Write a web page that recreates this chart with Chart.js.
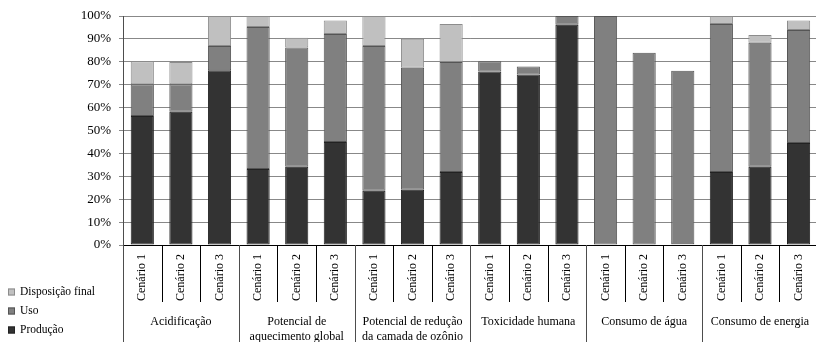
<!DOCTYPE html>
<html>
<head>
<meta charset="utf-8">
<script src="https://cdn.jsdelivr.net/npm/chart.js@4.4.1/dist/chart.umd.min.js"></script>
<style>
  html, body { margin: 0; padding: 0; background: #fff; overflow: hidden; }
  #wrap { width: 822px; height: 342px; }
</style>
</head>
<body>
<div id="wrap"><canvas id="grafico" width="822" height="342"></canvas></div>
<script>
/* Gráfico de barras empilhadas - contribuição por etapa */
const cenarios = ['Cenário 1', 'Cenário 2', 'Cenário 3'];
const categorias = [
  ['Acidificação'],
  ['Potencial de', 'aquecimento global'],
  ['Potencial de redução', 'da camada de ozônio'],
  ['Toxicidade humana'],
  ['Consumo de água'],
  ['Consumo de energia']
];
const yTicks = [0, 10, 20, 30, 40, 50, 60, 70, 80, 90, 100];

const producao   = [56.3, 58.2, 76.3, 33.2, 34.2, 45.0, 23.7, 24.1, 31.9, 75.8, 74.4, 96.2, null, null, 0.3, 31.9, 34.2, 44.5];
const uso        = [13.9, 12.0, 10.6, 62.0, 52.0, 47.1, 63.2, 53.3, 48.0, 4.4, 3.6, 3.8, 100, 84.0, 75.8, 64.6, 54.1, 49.4];
const disposicao = [10.0, 9.7, 13.1, 4.8, 4.3, 5.9, 13.1, 12.7, 16.6, null, null, null, null, null, null, 3.5, 3.4, 4.1];

const labels = [];
categorias.forEach(() => cenarios.forEach(c => labels.push(c)));

const fonte = 'Liberation Serif';

const eixoExtra = {
  id: 'eixoExtra',
  afterDraw(chart) {
    const ctx = chart.ctx;
    const x = chart.scales.x;
    const area = chart.chartArea;
    const passo = x.getPixelForValue(1) - x.getPixelForValue(0);
    const base = area.bottom;
    const fim = chart.height;
    ctx.save();
    ctx.lineWidth = 1;
    // separadores
    for (let i = 0; i <= labels.length; i++) {
      const px = Math.round(x.getPixelForValue(0) - passo / 2 + i * passo) + 0.5;
      const grupo = i % cenarios.length === 0;
      ctx.strokeStyle = grupo ? '#4d4d4d' : '#000';
      ctx.beginPath();
      ctx.moveTo(px, grupo && i === 0 ? area.top : base);
      ctx.lineTo(px, grupo ? fim : base + 57);
      ctx.stroke();
    }
    // nomes das categorias
    ctx.fillStyle = '#000';
    ctx.font = '12px "' + fonte + '"';
    ctx.textAlign = 'center';
    ctx.textBaseline = 'alphabetic';
    categorias.forEach((linhas, g) => {
      const centro = x.getPixelForValue(g * 3 + 1);
      linhas.forEach((t, k) => ctx.fillText(t, centro, base + 80 + k * 15));
    });
    // legenda
    const itens = [
      ['Disposição final', '#c0c0c0', '#8c8c8c'],
      ['Uso', '#808080', '#555'],
      ['Produção', '#333333', '#222']
    ];
    ctx.font = '11.5px "' + fonte + '"';
    ctx.textAlign = 'left';
    ctx.textBaseline = 'middle';
    itens.forEach((it, k) => {
      const y = 292 + k * 19;
      ctx.fillStyle = it[1];
      ctx.fillRect(8, y - 3.5, 7, 7);
      ctx.strokeStyle = it[2];
      ctx.strokeRect(8.5, y - 3, 6, 6);
      ctx.fillStyle = '#000';
      ctx.fillText(it[0], 20, y);
    });
    ctx.restore();
  }
};

new Chart(document.getElementById('grafico'), {
  type: 'bar',
  data: {
    labels: labels,
    datasets: [
      { label: 'Produção', data: producao, backgroundColor: '#333333', borderColor: '#222222' },
      { label: 'Uso', data: uso, backgroundColor: '#808080', borderColor: '#555555' },
      { label: 'Disposição final', data: disposicao, backgroundColor: '#c0c0c0', borderColor: '#8c8c8c' }
    ]
  },
  options: {
    responsive: false,
    animation: false,
    layout: { padding: { top: 16, right: 1, bottom: 0, left: 0 } },
    datasets: {
      bar: { borderWidth: 1, borderSkipped: false, barPercentage: 0.6, categoryPercentage: 1 }
    },
    plugins: {
      legend: { display: false },
      tooltip: { enabled: false }
    },
    scales: {
      x: {
        stacked: true,
        grid: { display: false, drawTicks: false },
        border: { display: true, color: '#000', width: 1 },
        ticks: {
          minRotation: 90, maxRotation: 90, padding: 9, autoSkip: false,
          color: '#000', font: { family: fonte, size: 12 }
        },
        afterFit(scale) { scale.height = 97; }
      },
      y: {
        stacked: true,
        min: 0, max: 100,
        afterBuildTicks(scale) { scale.ticks = yTicks.map(v => ({ value: v })); },
        grid: { color: '#888', tickLength: 4, tickColor: '#888' },
        border: { display: true, color: '#000', width: 1 },
        ticks: {
          padding: 8, color: '#000', font: { family: fonte, size: 13 },
          callback: v => v + '%'
        },
        afterFit(scale) { scale.width = 123; }
      }
    }
  },
  plugins: [eixoExtra]
});
</script>
</body>
</html>
